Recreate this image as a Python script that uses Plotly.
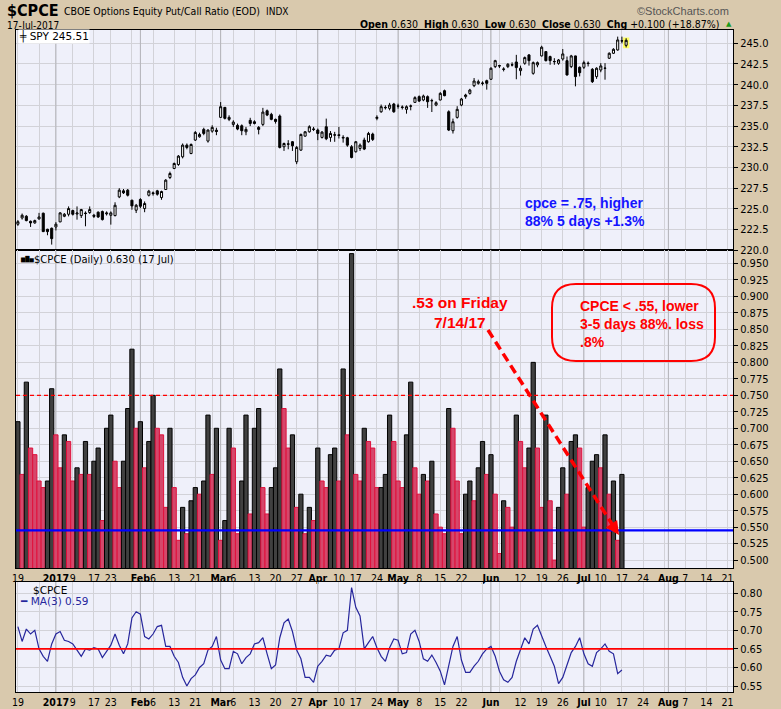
import pandas as pd
import plotly.graph_objects as go
from plotly.subplots import make_subplots

# trading calendar of the chart (NYSE holidays removed)
holidays = ["2016-12-26", "2017-01-02", "2017-01-16", "2017-02-20",
            "2017-04-14", "2017-05-29", "2017-07-04"]
days = pd.bdate_range("2016-12-19", "2017-08-21")
days = days[~days.isin(pd.to_datetime(holidays))]
pos = {d.strftime("%Y-%m-%d"): i for i, d in enumerate(days)}

# $CPCE daily, 19 Dec 2016 .. 17 Jul 2017
cpce = [0.71, 0.63, 0.77, 0.67, 0.66, 0.62, 0.61, 0.62, 0.76, 0.69,
        0.64, 0.69, 0.68, 0.62, 0.64, 0.63, 0.68, 0.63, 0.65, 0.67,
        0.56, 0.70, 0.72, 0.65, 0.61, 0.65, 0.73, 0.82, 0.70, 0.71,
        0.64, 0.68, 0.75, 0.70, 0.69, 0.58, 0.70, 0.61, 0.53, 0.58,
        0.54, 0.59, 0.61, 0.60, 0.62, 0.72, 0.63, 0.70, 0.53, 0.56,
        0.70, 0.67, 0.54, 0.62, 0.72, 0.57, 0.70, 0.73, 0.61, 0.57,
        0.61, 0.64, 0.79, 0.73, 0.67, 0.69, 0.58, 0.60, 0.54, 0.58,
        0.56, 0.67, 0.62, 0.61, 0.66, 0.67, 0.62, 0.79, 0.69, 0.965,
        0.63, 0.62, 0.70, 0.68, 0.67, 0.61, 0.61, 0.63, 0.72, 0.68,
        0.62, 0.61, 0.69, 0.77, 0.64, 0.60, 0.63, 0.62, 0.65, 0.57,
        0.55, 0.54, 0.73, 0.70, 0.62, 0.54, 0.60, 0.62, 0.59, 0.64,
        0.68, 0.63, 0.66, 0.60, 0.51, 0.59, 0.58, 0.55, 0.72, 0.68,
        0.64, 0.67, 0.80, 0.67, 0.58, 0.72, 0.59, 0.50, 0.58, 0.64,
        0.60, 0.68, 0.69, 0.67, 0.55, 0.61, 0.65, 0.66, 0.64, 0.69,
        0.60, 0.62, 0.53, 0.63]

# SPY overlay (one more session than the put/call series)
spy_open = [223.15, 223.91, 224.11, 223.50, 223.31, 223.79, 224.48, 222.54, 222.66, 222.82,
            223.43, 224.11, 224.35, 224.80, 224.38, 224.19, 224.50, 224.56, 224.23, 224.60,
            224.68, 224.40, 224.23, 224.19, 226.45, 227.18, 227.26, 226.05, 224.84, 226.13,
            225.04, 226.65, 226.94, 227.18, 226.37, 227.34, 228.79, 229.88, 230.36, 231.29,
            232.70, 231.69, 233.31, 233.71, 234.60, 233.19, 234.39, 234.50, 236.05, 237.26,
            235.81, 235.20, 235.08, 235.04, 234.31, 235.69, 235.52, 234.84, 235.20, 236.85,
            236.41, 235.81, 236.21, 232.50, 232.85, 233.11, 230.69, 232.10, 233.79, 234.31,
            234.65, 234.52, 233.63, 234.92, 233.63, 233.95, 233.95, 233.55, 233.59, 232.50,
            231.90, 232.30, 233.31, 233.11, 234.03, 235.93, 236.73, 237.26, 237.14, 237.66,
            237.40, 237.30, 237.02, 237.40, 237.86, 238.55, 238.15, 238.55, 238.08, 237.54,
            238.15, 239.27, 236.73, 234.44, 236.05, 237.54, 238.55, 238.95, 239.88, 240.16,
            240.20, 240.48, 240.65, 242.18, 242.30, 241.90, 242.18, 242.40, 242.74, 241.69,
            242.58, 243.59, 241.37, 242.38, 243.47, 243.99, 243.39, 242.80, 242.58, 243.10,
            242.90, 242.18, 243.47, 242.10, 242.10, 242.60, 241.85, 240.97, 241.77, 242.00,
            243.19, 243.79, 244.19, 245.30, 244.75]
spy_high = [223.65, 224.44, 224.25, 223.60, 223.70, 224.52, 224.55, 222.60, 222.75, 223.40,
            224.60, 224.50, 225.30, 224.90, 225.30, 225.00, 224.70, 225.30, 224.40, 224.70,
            224.80, 224.70, 224.70, 225.80, 227.50, 227.40, 227.40, 226.10, 225.60, 226.30,
            225.90, 227.30, 227.10, 227.30, 227.20, 228.60, 229.50, 230.60, 231.50, 232.90,
            232.90, 232.90, 234.40, 234.20, 234.80, 234.60, 235.10, 234.80, 237.90, 237.30,
            236.30, 235.70, 235.30, 235.20, 234.90, 236.00, 235.70, 235.00, 237.20, 237.00,
            236.60, 235.90, 236.40, 233.00, 233.30, 233.20, 232.60, 234.10, 234.40, 235.10,
            234.90, 234.70, 234.40, 235.90, 234.40, 234.30, 234.90, 233.90, 233.70, 232.70,
            233.20, 232.90, 233.60, 234.30, 234.20, 236.30, 237.60, 237.50, 237.80, 237.80,
            237.70, 237.50, 237.50, 237.60, 238.60, 238.70, 238.80, 238.70, 238.30, 238.00,
            239.10, 239.40, 236.90, 235.90, 237.40, 238.40, 238.90, 239.50, 240.80, 240.60,
            240.40, 240.60, 242.10, 243.00, 242.40, 242.10, 242.60, 242.70, 243.60, 242.30,
            243.40, 243.70, 242.80, 242.80, 244.70, 244.00, 243.50, 243.20, 243.10, 244.30,
            243.40, 243.60, 243.50, 242.20, 242.90, 242.80, 242.00, 242.10, 242.60, 242.60,
            243.90, 244.40, 245.80, 245.80, 245.60]
spy_low = [222.95, 223.71, 223.50, 222.82, 223.20, 223.70, 222.20, 221.82, 220.69, 222.40,
           223.40, 224.00, 224.10, 224.20, 223.70, 223.90, 222.90, 224.40, 223.90, 223.90,
           223.60, 224.20, 223.10, 224.10, 226.30, 226.80, 226.50, 224.90, 224.50, 225.10,
           224.60, 226.50, 226.60, 226.60, 226.10, 227.30, 228.60, 229.80, 230.20, 231.10,
           232.20, 231.60, 233.20, 233.60, 233.90, 233.00, 234.20, 233.90, 236.00, 235.80,
           235.60, 234.90, 234.50, 233.90, 233.90, 235.00, 235.20, 234.00, 235.00, 236.20,
           235.70, 235.30, 232.30, 232.00, 232.20, 232.00, 230.40, 232.00, 233.70, 234.20,
           234.40, 233.30, 233.50, 233.30, 233.10, 233.10, 233.50, 233.00, 232.50, 231.10,
           231.80, 232.00, 232.10, 233.00, 233.20, 235.70, 236.60, 237.00, 236.90, 236.60,
           237.10, 237.00, 236.50, 236.90, 237.80, 237.90, 238.00, 237.20, 236.70, 237.40,
           238.10, 238.60, 234.40, 234.10, 235.90, 237.40, 238.30, 238.80, 239.70, 240.00,
           239.90, 239.40, 240.60, 242.00, 242.00, 241.60, 242.00, 242.20, 240.65, 241.10,
           242.40, 242.30, 241.20, 242.10, 243.40, 242.80, 242.40, 242.40, 242.40, 242.90,
           241.10, 242.00, 239.80, 241.00, 241.90, 242.20, 240.20, 240.70, 241.50, 240.60,
           243.10, 243.70, 244.10, 245.00, 244.50]
spy_close = [223.45, 224.23, 223.59, 223.31, 223.59, 224.03, 222.26, 222.26, 221.41, 223.15,
             224.52, 224.35, 225.04, 224.35, 224.50, 224.92, 224.44, 224.92, 224.11, 224.03,
             223.71, 224.50, 224.52, 225.44, 227.26, 226.94, 226.65, 225.36, 225.44, 225.32,
             225.65, 227.14, 226.85, 226.77, 227.10, 228.47, 229.27, 230.48, 231.37, 232.70,
             232.42, 232.78, 234.23, 233.99, 234.11, 234.52, 234.84, 234.35, 237.34, 235.93,
             236.05, 235.48, 234.64, 234.44, 234.60, 235.32, 235.32, 234.60, 236.69, 236.33,
             235.81, 235.56, 232.42, 232.90, 232.82, 232.62, 232.42, 233.99, 234.31, 234.92,
             234.60, 234.11, 234.27, 233.47, 234.11, 233.91, 233.87, 233.63, 232.70, 231.21,
             233.11, 232.70, 232.22, 234.11, 233.39, 236.05, 237.34, 237.22, 237.54, 236.73,
             237.42, 237.26, 237.34, 237.42, 238.43, 238.02, 238.63, 237.94, 238.06, 237.82,
             238.95, 238.67, 234.52, 235.52, 237.02, 238.27, 238.75, 239.35, 240.44, 240.36,
             240.16, 240.16, 241.98, 242.90, 242.26, 241.85, 242.46, 242.38, 242.06, 241.98,
             243.27, 242.90, 242.66, 242.66, 244.52, 242.90, 242.90, 242.78, 242.98, 243.71,
             241.17, 243.47, 240.97, 241.45, 242.66, 242.55, 240.36, 241.98, 242.26, 241.98,
             243.79, 244.27, 245.40, 245.28, 245.35]

# x axis labels
tick_dates = ["2016-12-19", "2017-01-03", "2017-01-09", "2017-01-17", "2017-01-23",
              "2017-02-01", "2017-02-06", "2017-02-13", "2017-02-21", "2017-03-01",
              "2017-03-06", "2017-03-13", "2017-03-20", "2017-03-27", "2017-04-03",
              "2017-04-10", "2017-04-17", "2017-04-24", "2017-05-01", "2017-05-08",
              "2017-05-15", "2017-05-22", "2017-06-01", "2017-06-12", "2017-06-19",
              "2017-06-26", "2017-07-03", "2017-07-10", "2017-07-17", "2017-07-24",
              "2017-08-01", "2017-08-07", "2017-08-14", "2017-08-21"]
tick_text = ["19", "<b>2017</b>", "9", "17", "23", "<b>Feb</b>", "6", "13", "21", "<b>Mar</b>",
             "6", "13", "20", "27", "<b>Apr</b>", "10", "17", "24", "<b>May</b>", "8",
             "15", "22", "<b>Jun</b>", "12", "19", "26", "<b>Jul</b>", "10", "17", "24",
             "<b>Aug</b>", "7", "14", "21"]
# week starts without a label still get a grid line
extra_grid = ["2016-12-27", "2017-01-30", "2017-02-27", "2017-05-30", "2017-06-05", "2017-07-31"]
month_starts = ["2017-01-03", "2017-02-01", "2017-03-01", "2017-04-03",
                "2017-05-01", "2017-06-01", "2017-07-03", "2017-08-01"]

blue_level = 0.545
dash_level = 0.75
ma_level = 0.65

TAN = "#d9c9ad"
BG = "#eff0fa"
GRID = "#d2d2d8"
NARROW = "DejaVu Sans Condensed, Liberation Sans Narrow, Liberation Sans, sans-serif"
ARIAL = "Liberation Sans, Arial, sans-serif"
VERD = "DejaVu Sans, Verdana, sans-serif"

cpce_x = list(range(len(cpce)))
spy_x = list(range(len(spy_close)))
bar_up = [i == 0 or cpce[i] >= cpce[i - 1] for i in cpce_x]
bar_fill = ["#404040" if u else "#d5476b" for u in bar_up]
bar_edge = ["#000000" if u else "#e0103c" for u in bar_up]
ma3 = pd.Series(cpce).rolling(3, min_periods=1).mean()

grid_map = dict(zip(tick_dates, tick_text))
for d in extra_grid:
    grid_map.setdefault(d, "")
grid_sorted = sorted(grid_map)
grid_vals = [pos[d] for d in grid_sorted]
grid_text = [grid_map[d] for d in grid_sorted]

x_range = [-0.45, 169.3]
y_ranges = {"y": [220.0, 246.6], "y2": [0.488, 0.970], "y3": [0.534, 0.830]}

fig = make_subplots(rows=3, cols=1, shared_xaxes=True, vertical_spacing=0)

fig.add_trace(go.Candlestick(
    x=spy_x, open=spy_open, high=spy_high, low=spy_low, close=spy_close,
    increasing=dict(line=dict(color="black", width=1), fillcolor="white"),
    decreasing=dict(line=dict(color="black", width=1), fillcolor="black"),
    whiskerwidth=0, showlegend=False), row=1, col=1)

fig.add_trace(go.Bar(
    x=cpce_x, y=cpce, width=1.0,
    marker=dict(color=bar_fill, line=dict(color=bar_edge, width=1)),
    showlegend=False), row=2, col=1)

fig.add_trace(go.Scatter(
    x=cpce_x, y=ma3, mode="lines",
    line=dict(color="#26269c", width=1.2), showlegend=False), row=3, col=1)

x_common = dict(range=x_range, tickmode="array", tickvals=grid_vals, ticktext=grid_text,
                tickangle=0, showgrid=True, gridcolor=GRID, gridwidth=1, zeroline=False,
                showline=True, mirror=True, linecolor="black", linewidth=1, ticks="",
                tickfont=dict(family=NARROW, size=10.5, color="black"))
fig.update_layout(
    xaxis=dict(x_common, showticklabels=False, rangeslider=dict(visible=False)),
    xaxis2=dict(x_common, showticklabels=True),
    xaxis3=dict(x_common, showticklabels=True),
)
y_common = dict(side="right", showgrid=True, gridcolor=GRID, zeroline=False,
                showline=True, mirror=True, linecolor="black", linewidth=1,
                ticks="outside", ticklen=4, tickcolor="black", tickmode="linear", tick0=0,
                tickfont=dict(family=NARROW, size=11, color="black"))
fig.update_layout(
    yaxis=dict(y_common, domain=[0.6672, 1.0], range=y_ranges["y"],
               dtick=2.5, tickformat=".1f"),
    yaxis2=dict(y_common, domain=[0.1873, 0.6672], range=y_ranges["y2"],
                dtick=0.025, tickformat=".3f"),
    yaxis3=dict(y_common, domain=[0.0, 0.1662], range=y_ranges["y3"],
                dtick=0.05, tickformat=".2f"),
)

# darker month separators, between grid and data
for xr, yr in (("x", "y"), ("x2", "y2"), ("x3", "y3")):
    for d in month_starts:
        fig.add_shape(type="line", xref=xr, yref=yr, x0=pos[d], x1=pos[d],
                      y0=y_ranges[yr][0], y1=y_ranges[yr][1],
                      line=dict(color="#b4b4ba", width=1), layer="between")

# highlight on the latest SPY candle
last = spy_x[-1]
fig.add_shape(type="rect", xref="x", yref="y", x0=last - 0.75, x1=last + 0.75,
              y0=spy_low[-1] - 0.1, y1=spy_high[-1] + 0.1,
              fillcolor="#ffff66", line=dict(width=0), layer="between")

fig.add_shape(type="line", xref="x2", yref="y2", x0=x_range[0], x1=x_range[1],
              y0=dash_level, y1=dash_level, line=dict(color="#ff0000", width=1.3, dash="4px,3px"))
fig.add_shape(type="line", xref="x2", yref="y2", x0=x_range[0], x1=x_range[1],
              y0=blue_level, y1=blue_level, line=dict(color="#0000ff", width=2.2))
fig.add_shape(type="line", xref="x3", yref="y3", x0=x_range[0], x1=x_range[1],
              y0=ma_level, y1=ma_level, line=dict(color="#ff0000", width=1.6))

# pixel helpers for the page furniture
L, R, T, B = 16, 733, 30, 692


def fx(p):
    return (p - L) / (R - L)


def fy(p):
    return (B - p) / (B - T)


# rounded box around the red note
bx0, bx1, by0, by1 = fx(552), fx(715), fy(361), fy(284)
rx, ry = 24 / (R - L), 24 / (B - T)
box_path = (f"M {bx0 + rx},{by1} L {bx1 - rx},{by1} Q {bx1},{by1} {bx1},{by1 - ry} "
            f"L {bx1},{by0 + ry} Q {bx1},{by0} {bx1 - rx},{by0} L {bx0 + rx},{by0} "
            f"Q {bx0},{by0} {bx0},{by0 + ry} L {bx0},{by1 - ry} Q {bx0},{by1} {bx0 + rx},{by1} Z")
fig.add_shape(type="path", xref="paper", yref="paper", path=box_path,
              line=dict(color="#ff0000", width=2))

# dashed arrow to the 7/14 reading
fig.add_shape(type="line", xref="paper", yref="paper", x0=fx(488), y0=fy(330),
              x1=fx(612), y1=fy(524), line=dict(color="#ff0000", width=3.5, dash="9px,5px"))

ann = []


def note(text, x, y, size=12, color="black", family=NARROW, xanchor="left",
         yanchor="middle", align="left", **kw):
    ann.append(dict(text=text, x=fx(x), y=fy(y), xref="paper", yref="paper",
                    showarrow=False, xanchor=xanchor, yanchor=yanchor, align=align,
                    font=dict(family=family, size=size, color=color), **kw))


ann.append(dict(x=fx(619), y=fy(535), xref="paper", yref="paper", text="",
                showarrow=True, ax=-8, ay=-12, arrowhead=2, arrowsize=0.9,
                arrowwidth=3, arrowcolor="#ff0000"))

note("<b>$CPCE</b>", 5, 10.5, size=16)
note("CBOE Options Equity Put/Call Ratio (EOD)", 62, 11, size=10.5)
note("INDX", 264, 11, size=10)
note("17-Jul-2017", 5, 25, size=10)
note("©StockCharts.com", 731, 11, size=11, color="#555555", family=ARIAL, xanchor="right")
note("<b>Open</b> 0.630  <b>High</b> 0.630  <b>Low</b> 0.630  <b>Close</b> 0.630  "
     "<b>Chg</b> +0.100 (+18.87%)", 721, 24.5, size=10.5, xanchor="right")
note("▲", 724, 24.5, size=7, color="#1a9a1a", family=VERD)

note("╪ SPY 245.51", 18, 36, size=10.5, family=VERD, bgcolor="#ffffff", borderpad=0)
note("▆█▅", 18, 259, size=5.5, family=VERD)
note("$CPCE (Daily) 0.630 (17 Jul)", 32, 259, size=10, family=VERD)
note("$CPCE", 31, 590, size=10.5, family=VERD)
note("━ MA(3) 0.59", 18, 601, size=10.5, family=VERD, color="#26269c")

note("<b>cpce = .75, higher<br>88% 5 days +1.3%</b>", 523, 193, size=14,
     color="#1414ff", family=ARIAL, yanchor="top")
note("<b>.53 on Friday<br>7/14/17</b>", 460, 292, size=15.5, color="#ff0000",
     family=ARIAL, xanchor="center", yanchor="top", align="center")
note("<b>CPCE < .55, lower<br>3-5 days 88%. loss<br>.8%</b>", 578, 296, size=14,
     color="#ff0000", family=ARIAL, yanchor="top")

fig.update_layout(
    width=781, height=709,
    margin=dict(l=L, r=781 - R, t=T, b=709 - B, autoexpand=False),
    paper_bgcolor=TAN, plot_bgcolor=BG,
    showlegend=False, annotations=ann,
    font=dict(family=NARROW, size=12, color="black"),
)

# the page itself gets no default body margin, so the figure fills the window
fig.write_html("out.html", config={"displayModeBar": False},
               post_script="document.body.style.margin='0px';"
                           "document.body.style.background='" + TAN + "';")
